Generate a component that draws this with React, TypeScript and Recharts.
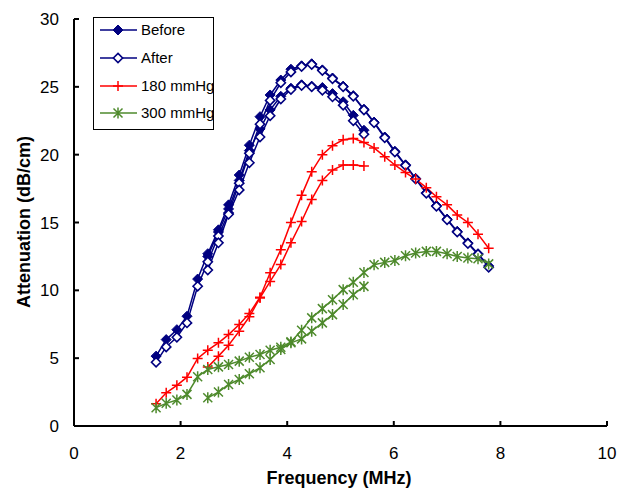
import React from 'react';
import { LineChart, Line, XAxis, YAxis } from 'recharts';

// Frequency (MHz) of each measurement point
const FREQ = [1.54, 1.73, 1.93, 2.12, 2.32, 2.51, 2.71, 2.90, 3.10, 3.29, 3.49, 3.68, 3.88, 4.07, 4.27, 4.46, 4.66, 4.85, 5.05, 5.24, 5.44, 5.63, 5.83, 6.02, 6.22, 6.41, 6.61, 6.80, 7.00, 7.19, 7.39, 7.58, 7.78];

const N = null;
// Before (two transducer sweeps)
const BEFORE_A = [5.15, 6.37, 7.1, 8.09, 10.83, 12.7, 14.46, 16.3, 18.5, 20.7, 22.8, 24.4, 25.5, 26.3, 26.55, 26.7, 26.25, 25.65, 25.05, 24.35, 23.35, 22.4, 21.3, 20.25, 19.25, 18.25, 17.2, 16.25, 15.25, 14.35, 13.5, 12.7, 11.8];
const BEFORE_B = [N, N, N, N, N, 12.5, 14.3, 16.0, 18.1, 20.3, 21.9, 23.3, 24.3, 24.9, 25.15, 25.05, 24.95, 24.5, 23.9, 22.9, 21.8, N, N, N, N, N, N, N, N, N, N, N, N];
// After
const AFTER_A = [4.7, 5.83, 6.54, 7.6, 10.3, 12.1, 14.0, 15.7, 17.9, 20.1, 22.25, 24.0, 25.3, 26.1, 26.5, 26.65, 26.2, 25.6, 25.0, 24.3, 23.3, 22.35, 21.25, 20.2, 19.2, 18.2, 17.15, 16.2, 15.2, 14.3, 13.45, 12.65, 11.7];
const AFTER_B = [N, N, N, N, N, 11.5, 13.5, 15.6, 17.4, 19.4, 21.3, 22.87, 24.1, 24.8, 25.1, 25.0, 24.75, 24.26, 23.65, 22.5, 21.5, N, N, N, N, N, N, N, N, N, N, N, N];
// 180 mmHg
const P180_A = [1.64, 2.45, 3.0, 3.6, 4.98, 5.59, 6.13, 6.74, 7.48, 8.3, 9.49, 11.3, 13.0, 15.0, 17.0, 18.75, 20.0, 20.66, 21.1, 21.2, 20.9, 20.5, 19.85, 19.24, 18.68, 18.2, 17.57, 16.9, 16.3, 15.56, 15.0, 14.14, 13.1];
const P180_B = [N, N, N, N, N, 4.34, 5.15, 5.96, 6.99, 8.05, 9.44, 10.66, 11.9, 13.5, 15.07, 16.7, 18.1, 18.87, 19.24, 19.24, 19.17, N, N, N, N, N, N, N, N, N, N, N, N];
// 300 mmHg
const P300_A = [1.35, 1.67, 1.91, 2.33, 3.63, 4.17, 4.36, 4.53, 4.78, 5.07, 5.27, 5.59, 5.8, 6.2, 7.06, 7.97, 8.65, 9.31, 10.05, 10.59, 11.32, 11.89, 12.06, 12.2, 12.55, 12.75, 12.87, 12.87, 12.7, 12.5, 12.38, 12.33, 11.95];
const P300_B = [N, N, N, N, N, 2.08, 2.5, 3.06, 3.43, 3.85, 4.29, 4.9, 5.64, 6.13, 6.42, 6.99, 7.6, 8.21, 8.95, 9.68, 10.29, N, N, N, N, N, N, N, N, N, N, N, N];

const X_TICKS = [0, 2, 4, 6, 8, 10];
const Y_TICKS = [0, 5, 10, 15, 20, 25, 30];
const LEGEND_LABELS = ['Before', 'After', '180 mmHg', '300 mmHg'];
const X_TITLE = 'Frequency (MHz)';
const Y_TITLE = 'Attenuation (dB/cm)';

const data = FREQ.map((f, i) => ({
  f,
  ba: BEFORE_A[i],
  bb: BEFORE_B[i],
  aa: AFTER_A[i],
  ab: AFTER_B[i],
  ra: P180_A[i],
  rb: P180_B[i],
  ga: P300_A[i],
  gb: P300_B[i],
}));

const NAVY = '#000080';
const RED = '#FF0000';
const GREEN = '#4E8A2C';
const FONT = '"Liberation Sans", Arial, sans-serif';

type M = { cx?: number | null; cy?: number | null };

const FilledDiamond = ({ cx, cy }: M) =>
  cx == null || cy == null ? null : (
    <polygon points={`${cx},${cy - 5} ${cx + 5},${cy} ${cx},${cy + 5} ${cx - 5},${cy}`} fill={NAVY} stroke={NAVY} strokeWidth={1} />
  );
const OpenDiamond = ({ cx, cy }: M) =>
  cx == null || cy == null ? null : (
    <polygon points={`${cx},${cy - 4.6} ${cx + 4.6},${cy} ${cx},${cy + 4.6} ${cx - 4.6},${cy}`} fill="#fff" stroke={NAVY} strokeWidth={1.6} />
  );
const Plus = ({ cx, cy }: M) =>
  cx == null || cy == null ? null : (
    <path d={`M${cx - 5},${cy}H${cx + 5}M${cx},${cy - 5}V${cy + 5}`} stroke={RED} strokeWidth={1.5} fill="none" />
  );
const Star = ({ cx, cy }: M) =>
  cx == null || cy == null ? null : (
    <path d={`M${cx},${cy - 5.5}V${cy + 5.5}M${cx - 4.5},${cy - 4.5}L${cx + 4.5},${cy + 4.5}M${cx - 4.5},${cy + 4.5}L${cx + 4.5},${cy - 4.5}`} stroke={GREEN} strokeWidth={1.5} fill="none" />
  );

const dotOf = (Comp: (p: M) => any, id: string) => (p: any) => (
  <g key={`${id}-${p.index}`}>{p.value == null ? null : <Comp cx={p.cx} cy={p.cy} />}</g>
);

export default function App() {
  const lineProps = { type: 'linear' as const, isAnimationActive: false, connectNulls: false, strokeWidth: 1.5, activeDot: false as const };
  const legendMarkers = [FilledDiamond, OpenDiamond, Plus, Star];
  const legendColors = [NAVY, NAVY, RED, GREEN];
  const legendY = [30, 58, 86, 113];
  return (
    <div style={{ position: 'absolute', left: 0, top: 0, width: 627, height: 489, background: '#fff' }}>
      <LineChart width={627} height={489} data={data} margin={{ top: 19, right: 20, bottom: 13, left: 0 }}>
        <XAxis
          dataKey="f"
          type="number"
          domain={[0, 10]}
          ticks={X_TICKS}
          height={50}
          axisLine={{ stroke: '#000', strokeWidth: 2 }}
          tickLine={{ stroke: '#000', strokeWidth: 2 }}
          tickSize={-5}
          tickMargin={26}
          tick={{ fill: '#000', fontSize: 17, fontFamily: FONT }}
        />
        <YAxis
          type="number"
          domain={[0, 30]}
          ticks={Y_TICKS}
          width={74}
          axisLine={{ stroke: '#000', strokeWidth: 2 }}
          tickLine={{ stroke: '#000', strokeWidth: 2 }}
          tickSize={-5}
          tickMargin={20}
          tick={{ fill: '#000', fontSize: 17, fontFamily: FONT }}
        />
        <Line {...lineProps} dataKey="ba" stroke={NAVY} dot={dotOf(FilledDiamond, 'ba')} />
        <Line {...lineProps} dataKey="bb" stroke={NAVY} dot={dotOf(FilledDiamond, 'bb')} />
        <Line {...lineProps} dataKey="aa" stroke={NAVY} dot={dotOf(OpenDiamond, 'aa')} />
        <Line {...lineProps} dataKey="ab" stroke={NAVY} dot={dotOf(OpenDiamond, 'ab')} />
        <Line {...lineProps} dataKey="ra" stroke={RED} dot={dotOf(Plus, 'ra')} />
        <Line {...lineProps} dataKey="rb" stroke={RED} dot={dotOf(Plus, 'rb')} />
        <Line {...lineProps} dataKey="ga" stroke={GREEN} dot={dotOf(Star, 'ga')} />
        <Line {...lineProps} dataKey="gb" stroke={GREEN} dot={dotOf(Star, 'gb')} />
      </LineChart>
      <svg width={627} height={489} style={{ position: 'absolute', left: 0, top: 0, pointerEvents: 'none' }}>
        <text x={30} y={222} transform="rotate(-90, 30, 222)" textAnchor="middle" fontFamily={FONT} fontWeight="bold" fontSize={18} fill="#000">
          {Y_TITLE}
        </text>
        <text x={339} y={484} textAnchor="middle" fontFamily={FONT} fontWeight="bold" fontSize={18} fill="#000">
          {X_TITLE}
        </text>
        <rect x={93.5} y={17.5} width={120} height={112} fill="#fff" stroke="#000" strokeWidth={1} />
        {LEGEND_LABELS.map((lab, i) => {
          const Mk = legendMarkers[i];
          return (
            <g key={lab}>
              <line x1={100} x2={137} y1={legendY[i]} y2={legendY[i]} stroke={legendColors[i]} strokeWidth={1.5} />
              <Mk cx={118} cy={legendY[i]} />
              <text x={141} y={legendY[i] + 5} fontFamily={FONT} fontSize={15} fill="#000">
                {lab}
              </text>
            </g>
          );
        })}
      </svg>
    </div>
  );
}
